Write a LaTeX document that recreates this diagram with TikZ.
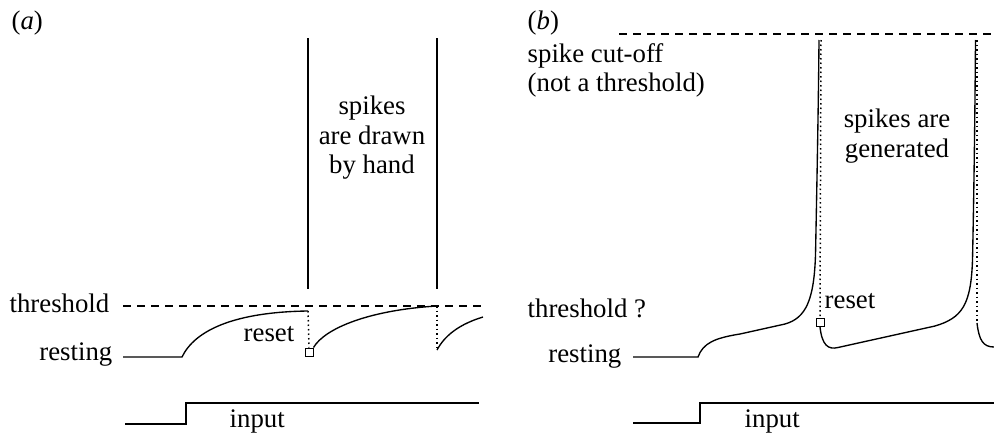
\documentclass[tikz,border=0pt]{standalone}
\usepackage{fontspec}
\setmainfont{Liberation Serif}
\begin{document}
\begin{tikzpicture}[x=1pt,y=-1pt,line width=1.35pt,
	    txt/.style={inner sep=0pt,font=\fontsize{26.8}{29.5}\selectfont},
	    level/.style={dash pattern=on 8pt off 6pt},
	    jump/.style={line width=1.5pt,dash pattern=on 1.5pt off 3pt},
	    resetbox/.style={draw,line width=1pt,inner sep=0pt,minimum size=8pt}]
	    \useasboundingbox (0,0) rectangle (994,434);
	    % panel (a)
	    \node[txt,anchor=base west] (la) at (11,29) {(\textit{a})};
	    \node[txt,anchor=base east] (tha) at (110,312) {threshold};
	    \node[txt,anchor=base east] (rsa) at (113,360) {resting};
	    \node[txt,anchor=base west] (rta) at (243,341) {reset};
	    \node[txt,anchor=base west] (ina) at (229,427) {input};
	    \node[txt,align=center] (spa) at (372,138) {spikes\\are drawn\\by hand};
	    \node[resetbox] (ra) at (309,352) {};
	    \draw (308,38) -- (308,289);
	    \draw (437,38) -- (437,289);
	    \draw[level] (123,306) -- (483,306);
	    \draw (123,357) -- (182,357) .. controls (195,330) and (235,312) .. (308,311);
	    \draw[jump] (308,311) -- (ra.north);
	    \draw (ra.north east) .. controls (325,328) and (370,310) .. (437,306);
	    \draw[jump] (437,306) -- (437,350);
	    \draw (437,350) .. controls (445,335) and (460,324) .. (483,317);
	    \draw (125,424) -- (186,424) -- (186,403) -- (479,403);
	    % panel (b)
	    \node[txt,anchor=base west] (lb) at (527,29) {(\textit{b})};
	    \node[txt,align=left,anchor=west] (cut) at (527,70.5) {spike cut-off\\(not a threshold)};
	    \node[txt,anchor=base west] (thb) at (527,317) {threshold ?};
	    \node[txt,anchor=base east] (rsb) at (622,362) {resting};
	    \node[txt,anchor=base west] (rtb) at (824,308) {reset};
	    \node[txt,anchor=base west] (inb) at (744,427) {input};
	    \node[txt,align=center] (spb) at (897,136) {spikes are\\generated};
	    \node[resetbox] (rb) at (820,322.5) {};
	    \draw[level] (619,34) -- (994,34);
	    \draw (633,357) -- (698,357) .. controls (703,343) and (715,338) .. (740,334)
	        -- (785,324) .. controls (806,318) and (814,300) .. (815.5,255)
	        .. controls (817,180) and (818.5,100) .. (819,40);
	    \draw[jump] (821,40) -- (rb.north);
	    \draw (rb.south) .. controls (822,345) and (828,350) .. (838,347.5)
	        -- (935,326) .. controls (962,318) and (971,305) .. (972.5,260)
	        .. controls (974,190) and (975,110) .. (975.5,40);
	    \draw[jump] (977,40) -- (977,323);
	    \draw (977,323) .. controls (979,340) and (983,347) .. (994,347);
	    \draw (633,423) -- (700,423) -- (700,403) -- (994,403);
\end{tikzpicture}
\end{document}
